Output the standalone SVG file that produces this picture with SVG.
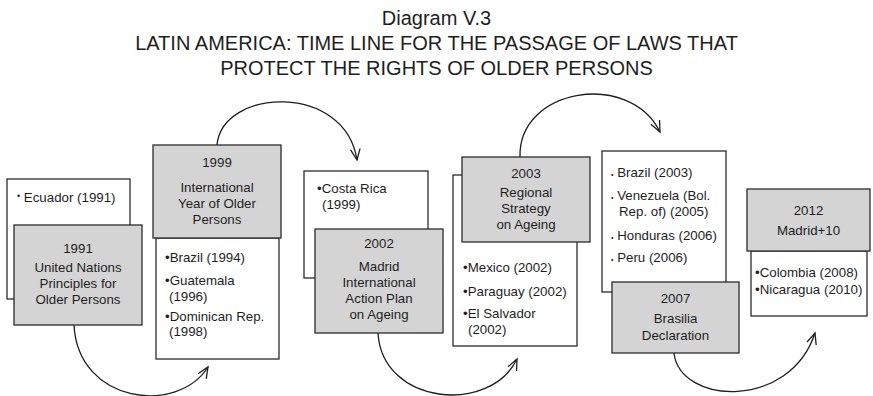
<svg xmlns="http://www.w3.org/2000/svg" width="873" height="396" viewBox="0 0 873 396">
<defs>
<style>
.bg{fill:#ffffff}
.w{fill:#ffffff;stroke:#2b2b2b;stroke-width:1.3}
.g{fill:#d4d4d4;stroke:#2b2b2b;stroke-width:1.3}
text{font-family:"Liberation Sans",Arial,sans-serif;fill:#1e1e1e}
.t{font-size:20px;text-anchor:middle}
.c{font-size:13.3px;text-anchor:middle}
.l{font-size:13.3px}
.conn{fill:none;stroke:#1e1e1e;stroke-width:1.3}
</style>
<marker id="arr" viewBox="-12 -7 14 14" refX="0" refY="0" markerWidth="14" markerHeight="14" markerUnits="userSpaceOnUse" orient="auto">
<path d="M-11,-4.8 L0,0 L-11,4.8" fill="none" stroke="#1e1e1e" stroke-width="1.3"/>
</marker>
</defs>
<rect class="bg" x="0" y="0" width="873" height="396"/>
<g id="title">
<text class="t" x="436.5" y="25">Diagram V.3</text>
<text class="t" x="436.5" y="49.5">LATIN AMERICA: TIME LINE FOR THE PASSAGE OF LAWS THAT</text>
<text class="t" x="436.5" y="74.5">PROTECT THE RIGHTS OF OLDER PERSONS</text>
</g>
<g id="connectors">
<path class="conn" d="M74,325 C78,404 178,415 208,367" marker-end="url(#arr)"/>
<path class="conn" d="M217,145 C222,88 345,82 357,160" marker-end="url(#arr)"/>
<path class="conn" d="M378,333 C382,405 490,415 517,359" marker-end="url(#arr)"/>
<path class="conn" d="M520,157 C518,88 630,70 660,132" marker-end="url(#arr)"/>
<path class="conn" d="M674,353 C680,405 790,410 815,333" marker-end="url(#arr)"/>
</g>
<g id="n1991">
<rect class="w" x="7" y="179" width="123" height="120"/>
<text class="l" x="17" y="202"><tspan font-size="9" dy="-3">•</tspan><tspan dy="3"> Ecuador (1991)</tspan></text>
<rect class="g" x="14" y="225" width="128" height="100"/>
<text class="c" x="78" y="253">1991</text>
<text class="c" x="78" y="272">United Nations</text>
<text class="c" x="78" y="288">Principles for</text>
<text class="c" x="78" y="304">Older Persons</text>
</g>
<g id="n1999">
<rect class="w" x="156" y="238" width="123" height="121"/>
<rect class="g" x="153" y="145" width="128" height="93"/>
<text class="c" x="217" y="167">1999</text>
<text class="c" x="217" y="192">International</text>
<text class="c" x="217" y="208">Year of Older</text>
<text class="c" x="217" y="224">Persons</text>
<text class="l" x="165" y="262">•Brazil (1994)</text>
<text class="l" x="165" y="285">•Guatemala</text>
<text class="l" x="169" y="301">(1996)</text>
<text class="l" x="165" y="321">•Dominican Rep.</text>
<text class="l" x="169" y="336">(1998)</text>
</g>
<g id="n2002">
<rect class="w" x="304" y="171" width="124" height="107"/>
<text class="l" x="317" y="193">•Costa Rica</text>
<text class="l" x="322" y="209">(1999)</text>
<rect class="g" x="315" y="229" width="128" height="104"/>
<text class="c" x="379" y="248">2002</text>
<text class="c" x="379" y="271">Madrid</text>
<text class="c" x="379" y="287">International</text>
<text class="c" x="379" y="303">Action Plan</text>
<text class="c" x="379" y="319">on Ageing</text>
</g>
<g id="n2003">
<rect class="w" x="453" y="175" width="124" height="171"/>
<rect class="g" x="462" y="157" width="128" height="85"/>
<text class="c" x="526" y="178">2003</text>
<text class="c" x="526" y="197">Regional</text>
<text class="c" x="526" y="213">Strategy</text>
<text class="c" x="526" y="229">on Ageing</text>
<text class="l" x="463" y="272">•Mexico (2002)</text>
<text class="l" x="463" y="296">•Paraguay (2002)</text>
<text class="l" x="463" y="318">•El Salvador</text>
<text class="l" x="468" y="334">(2002)</text>
</g>
<g id="n2007">
<rect class="w" x="602" y="151" width="124" height="141"/>
<text class="l" x="611" y="177"><tspan font-size="7">•</tspan><tspan> Brazil (2003)</tspan></text>
<text class="l" x="611" y="200"><tspan font-size="7">•</tspan><tspan> Venezuela (Bol.</tspan></text>
<text class="l" x="619" y="216">Rep. of) (2005)</text>
<text class="l" x="611" y="240"><tspan font-size="7">•</tspan><tspan> Honduras (2006)</tspan></text>
<text class="l" x="611" y="262"><tspan font-size="7">•</tspan><tspan> Peru (2006)</tspan></text>
<rect class="g" x="612" y="282" width="127" height="71"/>
<text class="c" x="675.5" y="303">2007</text>
<text class="c" x="675.5" y="323">Brasilia</text>
<text class="c" x="675.5" y="340">Declaration</text>
</g>
<g id="n2012">
<rect class="w" x="751" y="251" width="116" height="65"/>
<rect class="g" x="747" y="189" width="123" height="62"/>
<text class="c" x="808.5" y="215">2012</text>
<text class="c" x="808.5" y="235">Madrid+10</text>
<text class="l" x="755" y="277">•Colombia (2008)</text>
<text class="l" x="755" y="294">•Nicaragua (2010)</text>
</g>
</svg>
